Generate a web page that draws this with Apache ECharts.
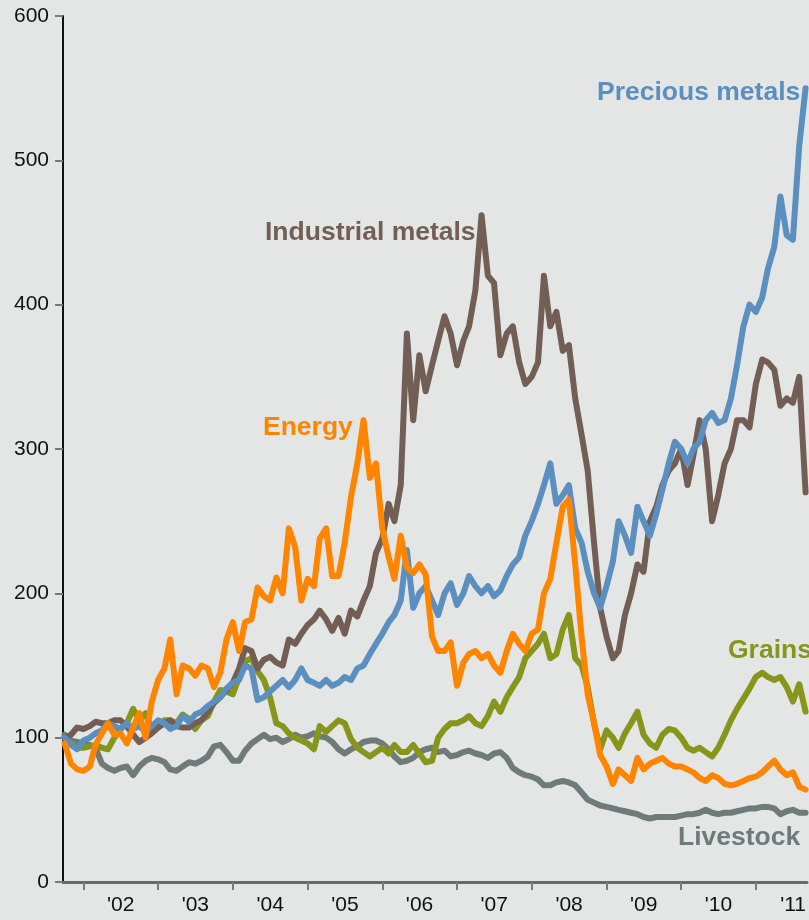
<!DOCTYPE html>
<html><head><meta charset="utf-8">
<script src="https://cdn.jsdelivr.net/npm/echarts@6/dist/echarts.min.js"></script>
<style>html,body{margin:0;padding:0;background:#e4e6e5;}#c{width:809px;height:920px;}</style>
</head><body><div id="c"></div>
<script>
// Monthly observations, Oct 2001 .. Sep 2011 (index, start = 100)
const firstYear = 2001, firstMonth = 9; // October (0-based month)
const tickYears = [2002,2003,2004,2005,2006,2007,2008,2009,2010,2011];
const tickLabels = ["'02","'03","'04","'05","'06","'07","'08","'09","'10","'11"];

const precious = [100,95,92,98,100,103,105,110,108,106,
110,106,108,104,108,112,110,106,108,115,
111,116,118,122,125,128,134,138,140,150,
148,126,128,132,136,140,135,140,148,140,
138,136,140,136,138,142,140,148,150,158,
165,172,180,185,195,230,190,200,205,195,
185,200,207,192,200,212,205,200,205,198,
202,212,220,225,240,250,262,275,290,262,
268,275,245,235,215,200,190,205,222,250,
240,228,260,250,240,255,272,290,305,300,
290,300,305,320,325,318,320,335,358,385,
400,395,405,425,440,475,448,445,510,550];

const industrial = [100,102,107,106,108,111,110,110,112,112,
108,102,97,100,103,107,110,112,108,107,
107,110,112,118,124,128,133,138,148,162,
160,148,154,156,152,150,168,165,172,178,
182,188,182,174,183,172,188,184,195,205,
228,238,262,250,275,380,320,365,340,358,
375,392,380,358,375,385,410,462,420,415,
365,380,385,360,345,350,360,420,385,395,
368,372,335,310,285,235,190,170,155,160,
185,200,220,215,250,260,275,285,290,300,
275,295,320,300,250,268,290,300,320,320,
315,345,362,360,355,330,335,332,350,270];

const energy = [96,82,78,77,80,95,103,110,102,103,
96,107,117,100,125,140,148,168,130,150,
148,143,150,148,135,145,168,180,160,180,
182,204,198,195,211,200,245,232,195,210,
205,238,245,212,212,235,267,290,320,280,
290,245,225,210,240,218,214,220,213,170,
160,160,166,136,152,158,160,155,158,150,
145,160,172,165,160,172,175,200,210,235,
260,265,220,170,130,110,88,80,68,78,
74,70,86,78,82,84,86,82,80,80,
78,76,72,70,74,72,68,67,68,70,
72,73,76,80,84,78,74,76,66,64];

const grains = [100,96,93,93,94,95,93,92,100,106,
110,120,112,117,105,107,112,112,110,116,
113,106,112,115,125,133,132,130,142,153,
155,146,140,128,110,108,103,100,98,96,
92,108,104,108,112,110,99,93,90,87,
90,93,89,95,90,90,95,89,83,84,
100,106,110,110,112,115,110,108,115,125,
118,128,135,142,155,160,165,172,155,158,
175,185,155,150,135,110,92,105,100,93,
103,110,118,102,96,93,102,106,105,100,
93,91,93,90,87,93,102,112,120,127,
134,142,145,142,140,142,135,125,137,118];

const livestock = [102,98,97,96,95,93,82,79,77,79,
80,74,80,84,86,85,83,78,77,80,
83,82,84,87,94,95,90,84,84,91,
96,99,102,99,100,97,99,102,100,101,
103,101,100,97,92,89,92,94,97,98,
98,96,92,87,83,84,86,90,92,93,
90,91,87,88,90,91,89,88,86,89,
90,86,79,76,74,73,71,67,67,69,
70,69,67,62,57,55,53,52,51,50,
49,48,47,45,44,45,45,45,45,46,
47,47,48,50,48,47,48,48,49,50,
51,51,52,52,51,47,49,50,48,48];

const dates = precious.map((_, i) => new Date(firstYear, firstMonth + i, 1).getTime());
const pairs = arr => arr.map((v, i) => [dates[i], v]);

const yearStarts = tickYears.map(y => new Date(y, 0, 1).getTime());
const yearMids = tickYears.map(y => new Date(y, 6, 2).getTime());

const chart = echarts.init(document.getElementById('c'), null, {renderer: 'canvas'});
const FONT = 'Liberation Sans, Arial, Helvetica, sans-serif';
const mk = (name, data, color) => ({
  name, type: 'line', data: pairs(data), showSymbol: false, symbol: 'none',
  lineStyle: {width: 6, color, join: 'round', cap: 'round'},
  itemStyle: {color}, animation: false, silent: true
});

chart.setOption({
  backgroundColor: '#e4e6e5',
  animation: false,
  grid: {left: 63, right: 0, top: 16, bottom: 38, containLabel: false},
  xAxis: {
    type: 'value',
    min: new Date(2001, 8, 23).getTime(),
    max: new Date(2011, 8, 8).getTime(),
    axisLine: {show: true, onZero: false, lineStyle: {color: '#6a6a6a', width: 3}},
    axisTick: {show: true, customValues: yearStarts, length: 8, lineStyle: {color: '#7a7a7a', width: 2}},
    axisLabel: {
      customValues: yearMids, fontSize: 21, color: '#111', margin: 13, fontFamily: FONT,
      formatter: v => tickLabels[new Date(v).getFullYear() - tickYears[0]]
    },
    splitLine: {show: false}
  },
  yAxis: {
    type: 'value', min: 0, max: 600, interval: 100,
    axisLine: {show: true, lineStyle: {color: '#111', width: 2}},
    axisTick: {show: true, length: 8, lineStyle: {color: '#7a7a7a', width: 2}},
    axisLabel: {fontSize: 21, color: '#111', margin: 14, fontFamily: FONT},
    splitLine: {show: false}
  },
  series: [
    mk('Livestock', livestock, '#6e7b79'),
    mk('Grains', grains, '#88951c'),
    mk('Industrial metals', industrial, '#725e54'),
    mk('Precious metals', precious, '#5a8fbf'),
    mk('Energy', energy, '#ff8500')
  ],
  graphic: [
    {type: 'text', x: 597, y: 93, style: {text: 'Precious metals', font: 'bold 26.5px ' + FONT, fill: '#5a8fbf', textVerticalAlign: 'middle'}},
    {type: 'text', x: 265, y: 233, style: {text: 'Industrial metals', font: 'bold 26.5px ' + FONT, fill: '#725e54', textVerticalAlign: 'middle'}},
    {type: 'text', x: 263, y: 428, style: {text: 'Energy', font: 'bold 26.5px ' + FONT, fill: '#ff8500', textVerticalAlign: 'middle'}},
    {type: 'text', x: 728, y: 651, style: {text: 'Grains', font: 'bold 26.5px ' + FONT, fill: '#88951c', textVerticalAlign: 'middle'}},
    {type: 'text', x: 678, y: 838, style: {text: 'Livestock', font: 'bold 26.5px ' + FONT, fill: '#6e7b79', textVerticalAlign: 'middle'}}
  ]
});
</script>
</body></html>
